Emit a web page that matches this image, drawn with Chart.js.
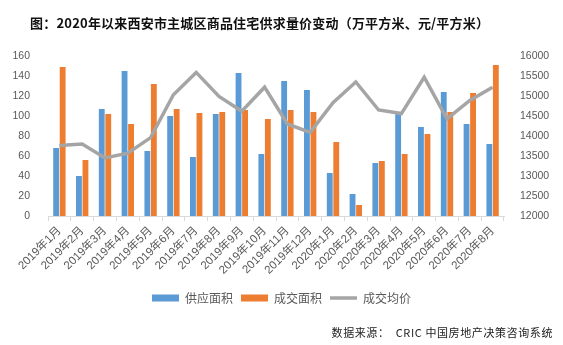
<!DOCTYPE html>
<html>
<head>
<meta charset="utf-8">
<script src="https://cdn.jsdelivr.net/npm/chart.js@4/dist/chart.umd.min.js"></script>
<style>
  html, body { margin: 0; padding: 0; background: #fff; }
  #wrap { position: relative; width: 563px; height: 345px; overflow: hidden; }
  #c { position: absolute; left: 0; top: 0; }
  #title { position: absolute; left: 30px; top: 14px; font: bold 13px "Noto Sans CJK SC", sans-serif; color: #111; white-space: nowrap; line-height: 18px; letter-spacing: 0.2px; }
  #src { position: absolute; right: 10px; top: 324px; font: 11px "Noto Sans CJK SC", sans-serif; color: #222; white-space: pre; line-height: 16px; letter-spacing: 0.6px; }
</style>
</head>
<body>
<div id="wrap">
  <canvas id="c" width="563" height="345"></canvas>
  <div id="title">图：2020年以来西安市主城区商品住宅供求量价变动（万平方米、元/平方米）</div>
  <div id="src">数据来源：  CRIC 中国房地产决策咨询系统</div>
</div>
<script>
const categories = ["2019年1月","2019年2月","2019年3月","2019年4月","2019年5月","2019年6月","2019年7月","2019年8月","2019年9月","2019年10月","2019年11月","2019年12月","2020年1月","2020年2月","2020年3月","2020年4月","2020年5月","2020年6月","2020年7月","2020年8月"];
const supplyArea = [68, 40, 107, 145, 65, 100, 59, 102, 143, 62, 135, 126, 43, 22, 53, 102, 89, 124, 92, 72];
const dealArea = [149, 56, 102, 92, 132, 107, 103, 104, 106, 97, 106, 104, 74, 11, 55, 62, 82, 104, 123, 151];
const avgPrice = [13760, 13800, 13450, 13570, 13960, 15030, 15590, 14990, 14620, 15220, 14300, 14090, 14830, 15350, 14650, 14560, 15470, 14430, 14890, 15220];
const seriesNames = ["供应面积", "成交面积", "成交均价"];

const tickColor = "#595959";
const tickFont = { family: "'Liberation Sans', sans-serif", size: 10.5 };

new Chart(document.getElementById("c"), {
  data: {
    labels: categories,
    datasets: [
      { type: "line", label: seriesNames[2], data: avgPrice, yAxisID: "y2", borderColor: "#A5A5A5", backgroundColor: "#A5A5A5", borderWidth: 3.5, pointRadius: 0, tension: 0, pointStyle: "line", order: 0 },
      { type: "bar", label: seriesNames[0], data: supplyArea, yAxisID: "y", backgroundColor: "#5B9BD5", borderWidth: 0, categoryPercentage: 0.57, barPercentage: 0.9, pointStyle: "rect", order: 1 },
      { type: "bar", label: seriesNames[1], data: dealArea, yAxisID: "y", backgroundColor: "#ED7D31", borderWidth: 0, categoryPercentage: 0.57, barPercentage: 0.9, pointStyle: "rect", order: 2 }
    ]
  },
  options: {
    responsive: false,
    animation: false,
    layout: { padding: { top: 56, bottom: 31, left: 0, right: 0 } },
    plugins: {
      title: { display: false },
      tooltip: { enabled: false },
      legend: {
        position: "bottom",
        labels: {
          usePointStyle: true,
          pointStyleWidth: 27,
          boxHeight: 7,
          boxWidth: 27,
          padding: 8,
          color: tickColor,
          font: { family: "'Noto Sans CJK SC', sans-serif", size: 12 },
          sort: (a, b) => {
            const ord = { "供应面积": 0, "成交面积": 1, "成交均价": 2 };
            return ord[a.text] - ord[b.text];
          }
        }
      }
    },
    scales: {
      x: {
        offset: true,
        grid: { display: true, drawOnChartArea: false, drawTicks: true, tickLength: 5, color: "#D9D9D9", offset: true },
        border: { display: true, color: "#D9D9D9" },
        ticks: { color: tickColor, font: { family: "'Liberation Sans','Noto Sans CJK SC', sans-serif", size: 11.5 }, maxRotation: 45, minRotation: 45, autoSkip: false, padding: 3 },
        afterFit: (s) => { s.height = 68; }
      },
      y: {
        position: "left",
        min: 0, max: 160,
        ticks: { stepSize: 20, color: tickColor, font: tickFont, padding: 10 },
        grid: { display: false },
        border: { display: false },
        afterFit: (s) => { s.width = 48; }
      },
      y2: {
        position: "right",
        min: 12000, max: 16000,
        ticks: { stepSize: 500, color: tickColor, font: tickFont, padding: 8, callback: (v) => String(v) },
        grid: { display: false },
        border: { display: false },
        afterFit: (s) => { s.width = 59; }
      }
    }
  }
});
</script>
</body>
</html>
